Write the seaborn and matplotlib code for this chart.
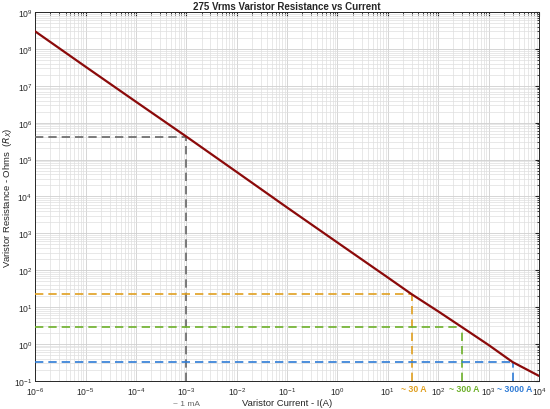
import numpy as np
import pandas as pd
import matplotlib
matplotlib.use("Agg")
import matplotlib.pyplot as plt
import matplotlib.ticker as mticker
import matplotlib.transforms as mtrans
import seaborn as sns

# data (log-log)
current = [1e-6, 1e-5, 1e-4, 1e-3, 1e-2, 1e-1, 1, 10, 30, 100, 300, 1000, 3000, 1e4]
resistance = [3.0e8, 3.3e7, 3.7e6, 4.2e5, 4.6e4, 5.0e3, 5.6e2, 63, 22, 7.6, 2.8, 0.93, 0.32, 0.135]

mark_i = [1e-3, 30, 300, 3000]
mark_r = [4.2e5, 22, 2.8, 0.32]
mark_txt = ["~ 1 mA", "~ 30 A", "~ 300 A", "~ 3000 A"]
mark_col = ["#666666", "#E0A020", "#6DB02A", "#2E7BD6"]

df = pd.DataFrame({"I": current, "R": resistance})

sns.set_style("whitegrid")
plt.rcParams["font.family"] = ["Liberation Sans", "DejaVu Sans"]

fig = plt.figure(figsize=(5.5, 4.1), dpi=100)
ax = fig.add_axes([0.064, 0.069, 0.916, 0.899])

ax.set_xscale("log")
ax.set_yscale("log")
ax.set_xlim(1e-6, 1e4)
ax.set_ylim(1e-1, 1e9)

# dashed guide lines
for xi, yi, c in zip(mark_i, mark_r, mark_col):
    ax.plot([1e-6, xi], [yi, yi], ls=(0, (5, 3)), color=c, lw=1.2, zorder=3)
    ax.plot([xi, xi], [1e-1, yi], ls=(0, (5, 3)), color=c, lw=1.2, zorder=3)

sns.lineplot(data=df, x="I", y="R", ax=ax, color="#8B0A0A", lw=1.6, zorder=4)

ax.xaxis.set_major_locator(mticker.LogLocator(base=10, numticks=20))
ax.yaxis.set_major_locator(mticker.LogLocator(base=10, numticks=20))
ax.xaxis.set_minor_locator(mticker.LogLocator(base=10, subs=np.arange(2, 10), numticks=20))
ax.yaxis.set_minor_locator(mticker.LogLocator(base=10, subs=np.arange(2, 10), numticks=20))
ax.xaxis.set_minor_formatter(mticker.NullFormatter())
ax.yaxis.set_minor_formatter(mticker.NullFormatter())

ax.grid(True, which="major", color="#cfcfcf", lw=0.6)
ax.grid(True, which="minor", color="#dedede", lw=0.5)
ax.tick_params(which="both", direction="in", top=True, right=True,
               labelsize=6.2, colors="#262626", length=3)
ax.tick_params(which="minor", length=1.8)
ax.tick_params(axis="x", pad=3)
ax.tick_params(axis="y", pad=2)
for s in ax.spines.values():
    s.set_color("#262626")
    s.set_linewidth(0.7)

ax.set_title("275 Vrms Varistor Resistance vs Current", fontsize=7,
             fontweight="bold", pad=2)
ax.set_xlabel("Varistor Current - I(A)", fontsize=6.8, va="center")
ax.set_ylabel("Varistor Resistance - Ohms  ($R_X$)", fontsize=6.8, va="center")
ax.xaxis.set_label_coords(0.5, -0.06)
ax.yaxis.set_label_coords(-0.054, 0.5)

trans = mtrans.blended_transform_factory(ax.transData, ax.transAxes)
for xi, t, c in zip(mark_i, mark_txt, mark_col):
    if t.endswith("mA"):
        ax.text(xi, -0.062, t, transform=trans, ha="center", va="center",
                fontsize=6, color=c)
    else:
        ax.text(xi * 1.1, -0.022, t, transform=trans, ha="center", va="center",
                fontsize=6.3, color=c, fontweight="bold")

fig.savefig("out.png", dpi=100)
